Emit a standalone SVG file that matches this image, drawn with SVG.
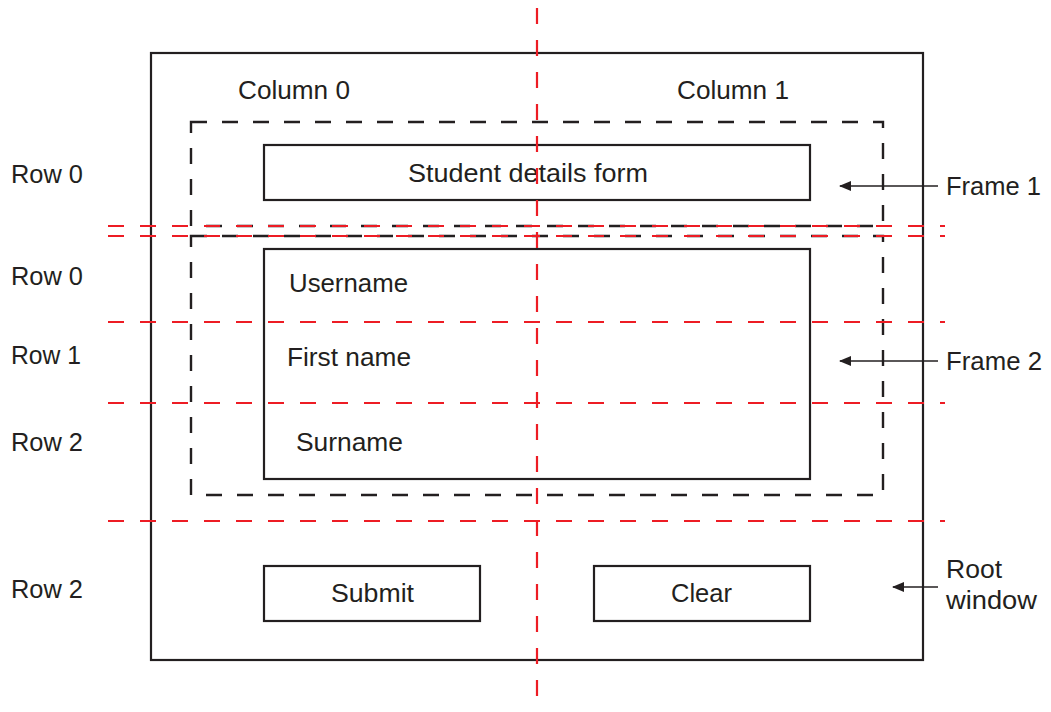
<svg xmlns="http://www.w3.org/2000/svg" width="1051" height="712" viewBox="0 0 1051 712">
  <style>
    text { font-family: "Liberation Sans", Arial, Helvetica, sans-serif; font-size: 26px; fill: #231f20; }
    .box { fill: none; stroke: #231f20; stroke-width: 2.2; }
    .frame { fill: none; stroke: #231f20; stroke-width: 2.4; stroke-dasharray: 16 15; }
    .grid { fill: none; stroke: #ed1c24; stroke-width: 2.2; stroke-dasharray: 16 16; }
    .lead { fill: none; stroke: #231f20; stroke-width: 1.5; }
  </style>
  <defs>
    <marker id="arrow" viewBox="0 0 12 10" refX="11" refY="5" markerWidth="12" markerHeight="10" markerUnits="userSpaceOnUse" orient="auto">
      <path d="M0,0 L12,5 L0,10 Z" fill="#231f20"/>
    </marker>
  </defs>

  <!-- root window -->
  <g id="root-window">
    <rect class="box" x="151" y="53" width="772" height="607"/>
  </g>

  <!-- frames -->
  <g id="frame1">
    <rect class="frame" x="191" y="122" width="692" height="104"/>
  </g>
  <g id="frame2">
    <rect class="frame" x="191" y="236" width="692" height="259"/>
  </g>

  <!-- widgets -->
  <g id="title-label">
    <rect class="box" x="264" y="145" width="546" height="55"/>
    <text x="408" y="182" textLength="240" lengthAdjust="spacingAndGlyphs">Student details form</text>
  </g>
  <g id="entry-panel">
    <rect class="box" x="264" y="249" width="546" height="230"/>
    <text x="289" y="292" textLength="119" lengthAdjust="spacingAndGlyphs">Username</text>
    <text x="287" y="366" textLength="124" lengthAdjust="spacingAndGlyphs">First name</text>
    <text x="296" y="451" textLength="107" lengthAdjust="spacingAndGlyphs">Surname</text>
  </g>
  <g id="submit-button">
    <rect class="box" x="264" y="566" width="216" height="55"/>
    <text x="331" y="602" textLength="83" lengthAdjust="spacingAndGlyphs">Submit</text>
  </g>
  <g id="clear-button">
    <rect class="box" x="594" y="566" width="216" height="55"/>
    <text x="671" y="602" textLength="61" lengthAdjust="spacingAndGlyphs">Clear</text>
  </g>

  <!-- grid lines -->
  <g id="grid">
    <line class="grid" x1="537" y1="0" x2="537" y2="712" stroke-dashoffset="-8"/>
    <line class="grid" x1="108" y1="226" x2="945" y2="226"/>
    <line class="grid" x1="108" y1="236" x2="945" y2="236"/>
    <line class="grid" x1="108" y1="322" x2="945" y2="322"/>
    <line class="grid" x1="108" y1="403" x2="945" y2="403"/>
    <line class="grid" x1="108" y1="521" x2="945" y2="521"/>
  </g>

  <!-- grid labels -->
  <g id="grid-labels">
    <text x="238" y="99" textLength="112" lengthAdjust="spacingAndGlyphs">Column 0</text>
    <text x="677" y="99" textLength="112" lengthAdjust="spacingAndGlyphs">Column 1</text>
    <text x="11" y="183" textLength="72" lengthAdjust="spacingAndGlyphs">Row 0</text>
    <text x="11" y="285" textLength="72" lengthAdjust="spacingAndGlyphs">Row 0</text>
    <text x="11" y="364" textLength="70" lengthAdjust="spacingAndGlyphs">Row 1</text>
    <text x="11" y="451" textLength="72" lengthAdjust="spacingAndGlyphs">Row 2</text>
    <text x="11" y="598" textLength="72" lengthAdjust="spacingAndGlyphs">Row 2</text>
  </g>

  <!-- callouts -->
  <g id="connectors">
    <line class="lead" x1="938" y1="186" x2="840" y2="186" marker-end="url(#arrow)"/>
    <line class="lead" x1="938" y1="361" x2="840" y2="361" marker-end="url(#arrow)"/>
    <line class="lead" x1="938" y1="587" x2="893" y2="587" marker-end="url(#arrow)"/>
  </g>
  <g id="callout-labels">
    <text x="946" y="195" textLength="95" lengthAdjust="spacingAndGlyphs">Frame 1</text>
    <text x="946" y="370" textLength="96" lengthAdjust="spacingAndGlyphs">Frame 2</text>
    <text x="946" y="578" textLength="56" lengthAdjust="spacingAndGlyphs">Root</text>
    <text x="946" y="609" textLength="91" lengthAdjust="spacingAndGlyphs">window</text>
  </g>
</svg>
